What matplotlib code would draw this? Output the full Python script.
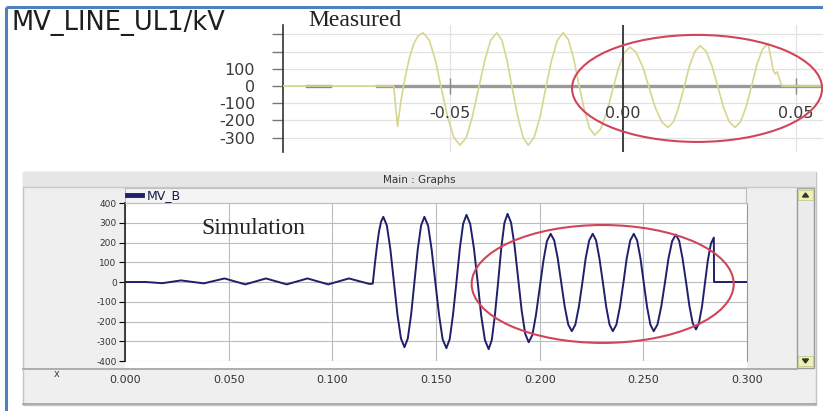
import matplotlib
matplotlib.use('Agg')
import matplotlib.pyplot as plt
from matplotlib.patches import Ellipse, Rectangle, Polygon

plt.rcParams['axes.unicode_minus'] = False

W, H = 823, 411

# measured MV line voltage (s, kV)
meas_t = [-0.0983, -0.0663, -0.0652, -0.0643, -0.0633, -0.0618, -0.0605, -0.0592, -0.0578,
          -0.0560, -0.0542, -0.0525, -0.0507, -0.0489, -0.0471,
          -0.0453, -0.0436, -0.0418, -0.0400, -0.0383, -0.0365,
          -0.0350, -0.0335, -0.0320, -0.0304, -0.0289, -0.0274,
          -0.0257, -0.0240, -0.0224, -0.0207, -0.0190, -0.0173,
          -0.0158, -0.0143, -0.0128, -0.0112, -0.0097, -0.0082,
          -0.0065, -0.0048, -0.0031, -0.0014, 0.0003, 0.0020,
          0.0038, 0.0057, 0.0075, 0.0093, 0.0112, 0.0130,
          0.0146, 0.0161, 0.0177, 0.0192, 0.0208, 0.0223,
          0.0240, 0.0257, 0.0274, 0.0290, 0.0307, 0.0324,
          0.0340, 0.0356, 0.0372, 0.0387, 0.0403, 0.0419,
          0.0427, 0.0434, 0.0440, 0.0446, 0.0452, 0.0458, 0.0462, 0.0578]
meas_v = [0, 0, -234, -100, 20, 160, 245, 292, 309,
          265, 146, -17, -180, -299, -343,
          -299, -180, -17, 146, 265, 309,
          265, 146, -17, -180, -299, -343,
          -299, -180, -17, 146, 265, 309,
          269, 161, 12, -137, -245, -285,
          -251, -157, -30, 98, 192, 226,
          195, 110, -7, -124, -209, -240,
          -208, -122, -3, 116, 202, 234,
          202, 116, -3, -122, -208, -240,
          -207, -119, 3, 125, 213, 246,
          170, 91, 70, 82, 40, 5, 0, 0]
meas_dash_t = [-0.0913, -0.0847]
meas_axis_t = [-0.0710, 0.0578]

# simulated MV_B (s, kV)
sim_t = [0.000, 0.010, 0.018, 0.027, 0.038, 0.048, 0.058, 0.068, 0.078, 0.088,
         0.098, 0.108, 0.118, 0.1195, 0.1205, 0.1215, 0.1225, 0.1235, 0.1246,
         0.1263, 0.1280, 0.1297, 0.1314, 0.1331, 0.1348,
         0.1364, 0.1380, 0.1396, 0.1412, 0.1428, 0.1444,
         0.1462, 0.1479, 0.1497, 0.1515, 0.1532, 0.1550,
         0.1566, 0.1582, 0.1599, 0.1615, 0.1631, 0.1647,
         0.1665, 0.1683, 0.1701, 0.1718, 0.1736, 0.1754,
         0.1769, 0.1784, 0.1800, 0.1815, 0.1830, 0.1845,
         0.1862, 0.1879, 0.1896, 0.1913, 0.1930, 0.1947,
         0.1965, 0.1982, 0.2000, 0.2018, 0.2035, 0.2053,
         0.2070, 0.2087, 0.2104, 0.2121, 0.2138, 0.2155,
         0.2172, 0.2189, 0.2206, 0.2222, 0.2239, 0.2256,
         0.2272, 0.2288, 0.2305, 0.2321, 0.2337, 0.2353,
         0.2370, 0.2387, 0.2404, 0.2420, 0.2437, 0.2454,
         0.2470, 0.2486, 0.2502, 0.2518, 0.2534, 0.2550,
         0.2568, 0.2586, 0.2604, 0.2621, 0.2639, 0.2657,
         0.2673, 0.2689, 0.2706, 0.2722, 0.2738, 0.2754,
         0.2768, 0.2783, 0.2797, 0.2811, 0.2826, 0.2840,
         0.2841, 0.3000]
sim_v = [0, 0, -6, 8, -7, 18, -12, 18, -12, 18,
         -12, 18, -10, -8, 90, 180, 255, 305, 330,
         286, 165, 0, -165, -286, -330,
         -286, -165, 0, 165, 286, 330,
         285, 164, -3, -169, -290, -335,
         -290, -166, 3, 171, 295, 340,
         294, 170, 0, -170, -294, -340,
         -294, -169, 3, 174, 299, 345,
         301, 183, 20, -143, -261, -305,
         -268, -168, -31, 107, 207, 244,
         211, 121, -3, -126, -216, -249,
         -216, -126, -3, 121, 211, 244,
         211, 121, -3, -126, -216, -249,
         -216, -126, -3, 121, 211, 244,
         211, 121, -3, -126, -216, -249,
         -216, -127, -5, 118, 207, 240,
         208, 120, 0, -120, -208, -240,
         -209, -124, -8, 109, 194, 225,
         0, 0]

meas_yticks = [-300, -200, -100, 0, 100, 200, 300]
meas_ylabels = ['-300', '-200', '-100', '0', '100', '', '']
meas_xticks = [-0.05, 0.00, 0.05]
meas_xlabels = ['-0.05', '0.00', '0.05']
sim_yticks = [-400, -300, -200, -100, 0, 100, 200, 300, 400]
sim_xticks = [0.0, 0.05, 0.10, 0.15, 0.20, 0.25, 0.30]
sim_xlabels = ['0.000', '0.050', '0.100', '0.150', '0.200', '0.250', '0.300']


def frac(x0, y0, x1, y1):
    return [x0 / W, 1 - y1 / H, (x1 - x0) / W, (y1 - y0) / H]


fig = plt.figure(figsize=(W / 100, H / 100), dpi=100)
fig.patch.set_facecolor('white')

# background layer in pixel units
bg = fig.add_axes([0, 0, 1, 1], zorder=0)
bg.set_xlim(0, W)
bg.set_ylim(H, 0)
bg.axis('off')

# blue page frame
bg.plot([6, W], [7, 7], color='#4f81bd', lw=2.2, solid_capstyle='butt')
bg.plot([6, 6], [7, H], color='#4f81bd', lw=2.2, solid_capstyle='butt')

# simulation window
bg.add_patch(Rectangle((23, 172), 793, 233, facecolor='#efefef', edgecolor='#c4c4c4', lw=1))
bg.add_patch(Rectangle((23, 172), 793, 15, facecolor='#e6e6e6', edgecolor='none'))
bg.plot([23, 816], [187, 187], color='#c8c8c8', lw=1)
bg.add_patch(Rectangle((125, 188), 621, 15, facecolor='#f4f4f4', edgecolor='#bdbdbd', lw=0.8))
bg.add_patch(Rectangle((125, 203), 622, 165, facecolor='white', edgecolor='none'))
bg.plot([23, 797], [369, 369], color='#a8a8a8', lw=1.3)
bg.plot([23, 816], [404, 404], color='#a8a8a8', lw=1.3)
bg.text(419, 180, 'Main : Graphs', fontsize=7.5, color='#333333', ha='center', va='center')
bg.text(57, 374, 'x', fontsize=7, color='#444444', ha='center', va='center')

# scroll bar
bg.add_patch(Rectangle((797, 188), 17, 180, facecolor='#ececec', edgecolor='#9a9a9a', lw=1))
bg.add_patch(Rectangle((798, 190), 15, 10, facecolor='#eef2b0', edgecolor='#c8c890', lw=0.6))
bg.add_patch(Rectangle((798, 356), 15, 10, facecolor='#eef2b0', edgecolor='#c8c890', lw=0.6))
bg.add_patch(Polygon([[802.5, 197], [808.5, 197], [805.5, 193]], color='#333333'))
bg.add_patch(Polygon([[802.5, 359], [808.5, 359], [805.5, 363]], color='#333333'))

# labels of the measured plot
bg.text(12, 23, 'MV_LINE_UL1/kV', fontsize=18.5, family='DejaVu Sans', color='#1e1e1e',
        ha='left', va='center')
bg.text(355, 20, 'Measured', fontsize=17, family='Liberation Serif', color='#222222',
        ha='center', va='center')

# ---- measured plot ----
ax1 = fig.add_axes(frac(283, 25, 823, 152), zorder=2)
ax1.patch.set_alpha(0)
ax1.set_xlim(-0.0983, 0.0578)
ax1.set_ylim(-383, 354)
for s in ['top', 'right', 'bottom']:
    ax1.spines[s].set_visible(False)
ax1.spines['left'].set_color('#333333')
ax1.spines['left'].set_linewidth(1.2)
ax1.set_yticks(meas_yticks)
ax1.set_yticklabels(meas_ylabels)
ax1.tick_params(axis='y', length=8, width=1, color='#777777', pad=12,
                labelsize=11.5, labelcolor='#3a3a3a')
ax1.set_xticks(meas_xticks)
ax1.set_xticklabels([])
ax1.tick_params(axis='x', length=0)
ax1.grid(True, color='#e2e2e2', lw=0.9)
ax1.set_axisbelow(True)

ax1.plot(meas_axis_t, [0, 0], color='#9a9a9a', lw=2.4, zorder=2)
ax1.plot(meas_dash_t, [0, 0], color='#8a8a8a', lw=2.4, zorder=2)
ax1.plot(meas_t, meas_v, color='#d6d68e', lw=1.2, zorder=3)
ax1.axvline(0, color='#222222', lw=1.2, zorder=4)
ax1.vlines([meas_xticks[0], meas_xticks[2]], -45, 45, color='#8a8a8a', lw=1, zorder=2)
for t, lab in zip(meas_xticks, meas_xlabels):
    ax1.text(t, -160, lab, fontsize=11.5, color='#3a3a3a', ha='center', va='center', zorder=5)
ax1.add_patch(Ellipse((0.0214, -14), 0.0723, 621, fill=False, edgecolor='#d0455a',
                      lw=1.5, clip_on=False, zorder=6))

# ---- simulation plot ----
ax2 = fig.add_axes(frac(125, 203, 747, 361), zorder=2)
ax2.patch.set_alpha(0)
ax2.set_xlim(0, 0.3)
ax2.set_ylim(-400, 400)
ax2.spines['bottom'].set_visible(False)
ax2.spines['top'].set_color('#bdbdbd')
ax2.spines['right'].set_color('#9a9a9a')
ax2.spines['left'].set_color('#222222')
ax2.spines['left'].set_linewidth(1.2)
ax2.set_yticks(sim_yticks)
ax2.tick_params(axis='y', length=4, width=0.8, pad=2, labelsize=6.5, labelcolor='#333333')
ax2.set_xticks(sim_xticks)
ax2.set_xticklabels(sim_xlabels)
ax2.tick_params(axis='x', length=0, pad=10, labelsize=8, labelcolor='#333333')
ax2.grid(True, color='#bcbcbc', lw=0.8)
ax2.set_axisbelow(True)

ax2.plot(sim_t, sim_v, color='#1f1f6b', lw=1.4, label='MV_B', zorder=3)
ax2.text(0.062, 270, 'Simulation', fontsize=17, family='Liberation Serif', color='#222222',
         ha='center', va='center')
ax2.add_patch(Ellipse((0.2304, -10), 0.1264, 597, fill=False, edgecolor='#d0455a',
                      lw=1.5, clip_on=False, zorder=6))
leg = ax2.legend(loc='center left', bbox_to_anchor=(0.003, 1.045), frameon=False,
                 fontsize=9, handlelength=1.2, handletextpad=0.4, borderpad=0,
                 borderaxespad=0, labelcolor='#1a1a4a')
leg.legend_handles[0].set_linewidth(3.5)

fig.savefig('out.png', dpi=100)
